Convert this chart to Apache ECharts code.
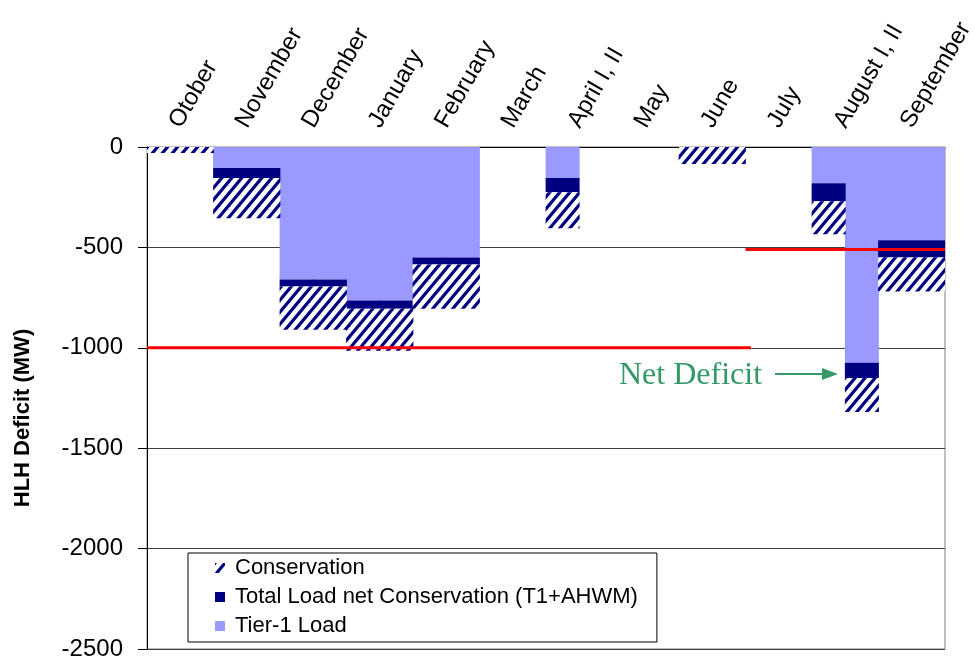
<!DOCTYPE html>
<html>
<head>
<meta charset="utf-8">
<script src="https://cdn.jsdelivr.net/npm/echarts@6/dist/echarts.min.js"></script>
<style>
  html, body { margin: 0; padding: 0; background: #fff; }
  #chart { width: 975px; height: 661px; }
</style>
</head>
<body>
<div id="chart"></div>
<script>
// month labels shown on the top axis
const months = ["Otober", "November", "December", "January", "February", "March",
  "April I, II", "May", "June", "July", "August I, II", "September"];

// every month is drawn as two half slots (I / II)
const slots = ["Oct-1", "Oct-2", "Nov-1", "Nov-2", "Dec-1", "Dec-2", "Jan-1", "Jan-2",
  "Feb-1", "Feb-2", "Mar-1", "Mar-2", "Apr-I", "Apr-II", "May-1", "May-2",
  "Jun-1", "Jun-2", "Jul-1", "Jul-2", "Aug-I", "Aug-II", "Sep-1", "Sep-2"];

// MW, per half slot
const tier1Load = [0, 0, -105, -105, -660, -660, -765, -765, -550, -550, 0, 0,
  -155, 0, 0, 0, 0, 0, 0, 0, -180, -1075, -465, -465];
const netConservation = [0, 0, -50, -50, -35, -35, -40, -40, -35, -35, 0, 0,
  -70, 0, 0, 0, 0, 0, 0, 0, -90, -75, -85, -85];
const conservation = [-30, -30, -200, -200, -215, -215, -210, -210, -220, -220, 0, 0,
  -180, 0, 0, 0, -85, -85, 0, 0, -165, -170, -170, -170];

// net deficit levels and the span (in months from October) they cover
const deficitLevels = [-1000, -510];
const deficitSpans = [[0, 9.08], [9, 12]];

const yTicks = { min: -2500, max: 0, step: 500 };

function hatch() {
  const c = document.createElement("canvas");
  c.width = 10;
  c.height = 12;
  const g = c.getContext("2d");
  g.fillStyle = "#fff";
  g.fillRect(0, 0, 10, 12);
  g.strokeStyle = "#000080";
  g.lineWidth = 3.2;
  for (let k = -1; k <= 1; k++) {
    g.beginPath();
    g.moveTo(k * 10 - 5, 18);
    g.lineTo(k * 10 + 15, -6);
    g.stroke();
  }
  return c;
}

const font = "Liberation Sans, Arial, sans-serif";
const chart = echarts.init(document.getElementById("chart"));

const deficitSeries = deficitLevels.map((lvl, i) => ({
  type: "line",
  name: "deficit" + i,
  xAxisIndex: 2,
  data: deficitSpans[i].map(x => [x, lvl]),
  symbol: "none",
  silent: true,
  z: 5,
  lineStyle: { color: "#ff0000", width: 3 }
}));

const barBase = {
  type: "bar",
  xAxisIndex: 1,
  stack: "deficit",
  barWidth: 34,
  barCategoryGap: "0%"
};

const option = {
  animation: false,
  backgroundColor: "#fff",
  textStyle: { fontFamily: font },
  grid: {
    left: 147, top: 147, right: 30, bottom: 12,
    outerBoundsMode: "none",
    containLabel: false,
    show: true, borderColor: "#808080", borderWidth: 1
  },
  legend: {
    data: ["Conservation", "Total Load net Conservation (T1+AHWM)", "Tier-1 Load"],
    orient: "vertical",
    left: 188,
    top: 553,
    padding: [4, 19, 5, 27],
    itemWidth: 10,
    itemHeight: 10,
    itemGap: 7,
    icon: "rect",
    backgroundColor: "#fff",
    borderColor: "#000",
    borderWidth: 1,
    textStyle: { fontSize: 22, color: "#000", fontFamily: font, padding: [0, 0, 0, 5] }
  },
  xAxis: [
    {
      type: "category",
      data: months,
      position: "top",
      axisLine: { lineStyle: { color: "#000", width: 1 } },
      axisTick: { length: 9, lineStyle: { color: "#000" } },
      axisLabel: {
        rotate: 60, fontSize: 24, color: "#000", interval: 0, margin: 18,
        align: "left", verticalAlign: "bottom", lineHeight: 12, fontFamily: font
      },
      splitLine: { show: false }
    },
    {
      type: "category",
      data: slots,
      show: false
    },
    {
      type: "value",
      min: 0,
      max: 12,
      show: false
    }
  ],
  yAxis: {
    type: "value",
    min: yTicks.min,
    max: yTicks.max,
    interval: yTicks.step,
    name: "HLH Deficit (MW)",
    nameLocation: "middle",
    nameGap: 113,
    nameTextStyle: { fontSize: 22, fontWeight: "bold", color: "#000", fontFamily: font, padding: [0, 40, 0, 0] },
    axisLine: { show: true, lineStyle: { color: "#000" } },
    axisTick: { show: true, length: 9, lineStyle: { color: "#000" } },
    axisLabel: { fontSize: 24, color: "#000", margin: 24, fontFamily: font, formatter: v => String(v) },
    splitLine: { lineStyle: { color: "#404040", width: 1 } }
  },
  series: [
    Object.assign({}, barBase, {
      name: "Tier-1 Load",
      data: tier1Load,
      itemStyle: { color: "#9999ff" }
    }),
    Object.assign({}, barBase, {
      name: "Total Load net Conservation (T1+AHWM)",
      data: netConservation,
      itemStyle: { color: "#000080" }
    }),
    Object.assign({}, barBase, {
      name: "Conservation",
      data: conservation,
      itemStyle: { color: { image: hatch(), repeat: "repeat" } }
    }),
    ...deficitSeries
  ],
  graphic: [
    {
      type: "text",
      left: 619,
      top: 360,
      style: { text: "Net Deficit", fill: "#339966", font: "32px Liberation Serif, Times New Roman, serif" }
    },
    {
      type: "line",
      shape: { x1: 775, y1: 374, x2: 824, y2: 374 },
      style: { stroke: "#339966", lineWidth: 2 }
    },
    {
      type: "polygon",
      shape: { points: [[822, 368], [838, 374], [822, 380]] },
      style: { fill: "#339966" }
    }
  ]
};

chart.setOption(option);
</script>
</body>
</html>
